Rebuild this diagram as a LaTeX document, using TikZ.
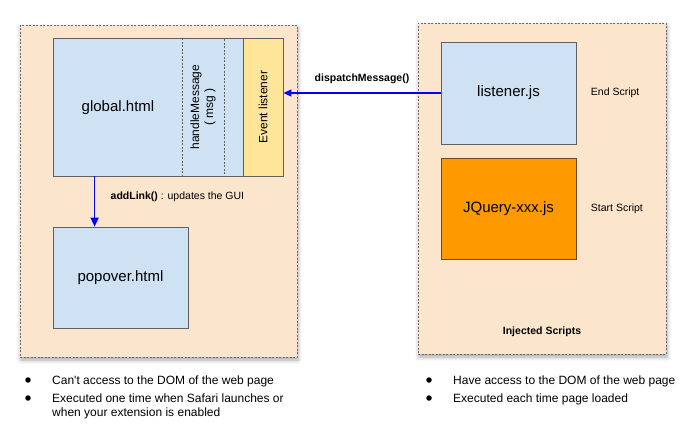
\documentclass[tikz,border=0pt]{standalone}
\usepackage{fontspec}
\setmainfont{Liberation Sans}
\usepackage{xcolor}
\usetikzlibrary{positioning,arrows.meta,shadows.blur}

\definecolor{peach}{HTML}{FCE5CD}
\definecolor{lightblue}{HTML}{CFE2F3}
\definecolor{lightyellow}{HTML}{FFE599}
\definecolor{jqorange}{HTML}{FF9900}
\definecolor{jqborder}{HTML}{6B4A1E}
\definecolor{boxgray}{HTML}{5F5F5F}
\definecolor{areagray}{HTML}{6A6A6A}
\definecolor{linkblue}{HTML}{0000FF}

\begin{document}
\begin{tikzpicture}[x=1pt, y=-1pt, >={Triangle[length=8pt, width=7pt]},
    area/.style={draw=areagray, dash pattern=on 2pt off 1.5pt, line width=0.7pt, fill=peach,
        blur shadow={shadow xshift=1pt, shadow yshift=-3pt, shadow blur radius=4pt, shadow opacity=35}},
    box/.style={draw=boxgray, line width=0.8pt, fill=lightblue},
    big/.style={font=\fontsize{15}{18}\selectfont},
    small/.style={font=\fontsize{10.5}{12}\selectfont},
    note/.style={font=\fontsize{12}{14}\selectfont, align=left, inner sep=0pt},
    dot/.style={circle, fill=black, inner sep=0pt, minimum size=5.5pt},
    link/.style={->, every edge/.append style={draw=linkblue}}]

    \useasboundingbox (0,0) rectangle (687,434);

    % the two areas
    \node[area, minimum width=277pt, minimum height=332pt] (ext) at (158.5,191) {};
    \node[area, minimum width=248pt, minimum height=331pt] (inj) at (542,188.5) {};

    % global page
    \node[box, minimum width=230pt, minimum height=138pt] (global) at (168,107) {};
    \node[big] (gtext) at (118,108) {global.html};
    \node[draw=boxgray, dash pattern=on 2pt off 1.5pt, line width=0.8pt, rotate=90, align=center,
        minimum width=138pt, minimum height=42pt, font=\fontsize{12}{14}\selectfont] (handle) at (203,107) {handleMessage\\( msg )};
    \node[box, fill=lightyellow, rotate=90, minimum width=138pt, minimum height=40pt,
        font=\fontsize{12}{14}\selectfont] (evt) at (263,107) {Event listener};

    \node[box, big, minimum width=135pt, minimum height=101pt] (pop) at (120.5,277.5) {popover.html};

    % injected scripts
    \node[box, big, minimum width=135pt, minimum height=102pt] (lis) at (508.5,93) {listener.js};
    \node[box, big, fill=jqorange, draw=jqborder, minimum width=135pt, minimum height=101pt] (jq) at (508.5,208.5) {JQuery-xxx.js};
    \node[small, right=11pt of lis] (endtxt) {End Script};
    \node[small, right=11pt of jq] (starttxt) {Start Script};
    \node[small] (injtxt) at (542,332) {\bfseries Injected Scripts};

    \path[link]
        (lis.west) edge[line width=1.2pt] node[above=5pt, small] {\bfseries dispatchMessage()} (lis.west -| evt.south)
        ([xshift=42pt]global.south west) edge[line width=1.5pt, -{Triangle[length=9pt, width=8pt]}]
            node[pos=0.4, right=12pt, small] {\textbf{addLink()} : updates the GUI} ([xshift=42pt]pop.north west);

    % notes
    \node[dot] (d1) at (28,380) {};
    \node[note, anchor=west] (n1) at (52,381) {Can\textquotesingle t access to the DOM of the web page};
    \node[dot] (d2) at (28,398) {};
    \node[note, anchor=north west] (n2) at (52,393.5) {Executed one time when Safari launches or\\when your extension is enabled};

    \node[dot] (d3) at (429,380) {};
    \node[note, anchor=west] (n3) at (453,381) {Have access to the DOM of the web page};
    \node[dot] (d4) at (429,398) {};
    \node[note, anchor=west] (n4) at (453,399) {Executed each time page loaded};

\end{tikzpicture}
\end{document}
